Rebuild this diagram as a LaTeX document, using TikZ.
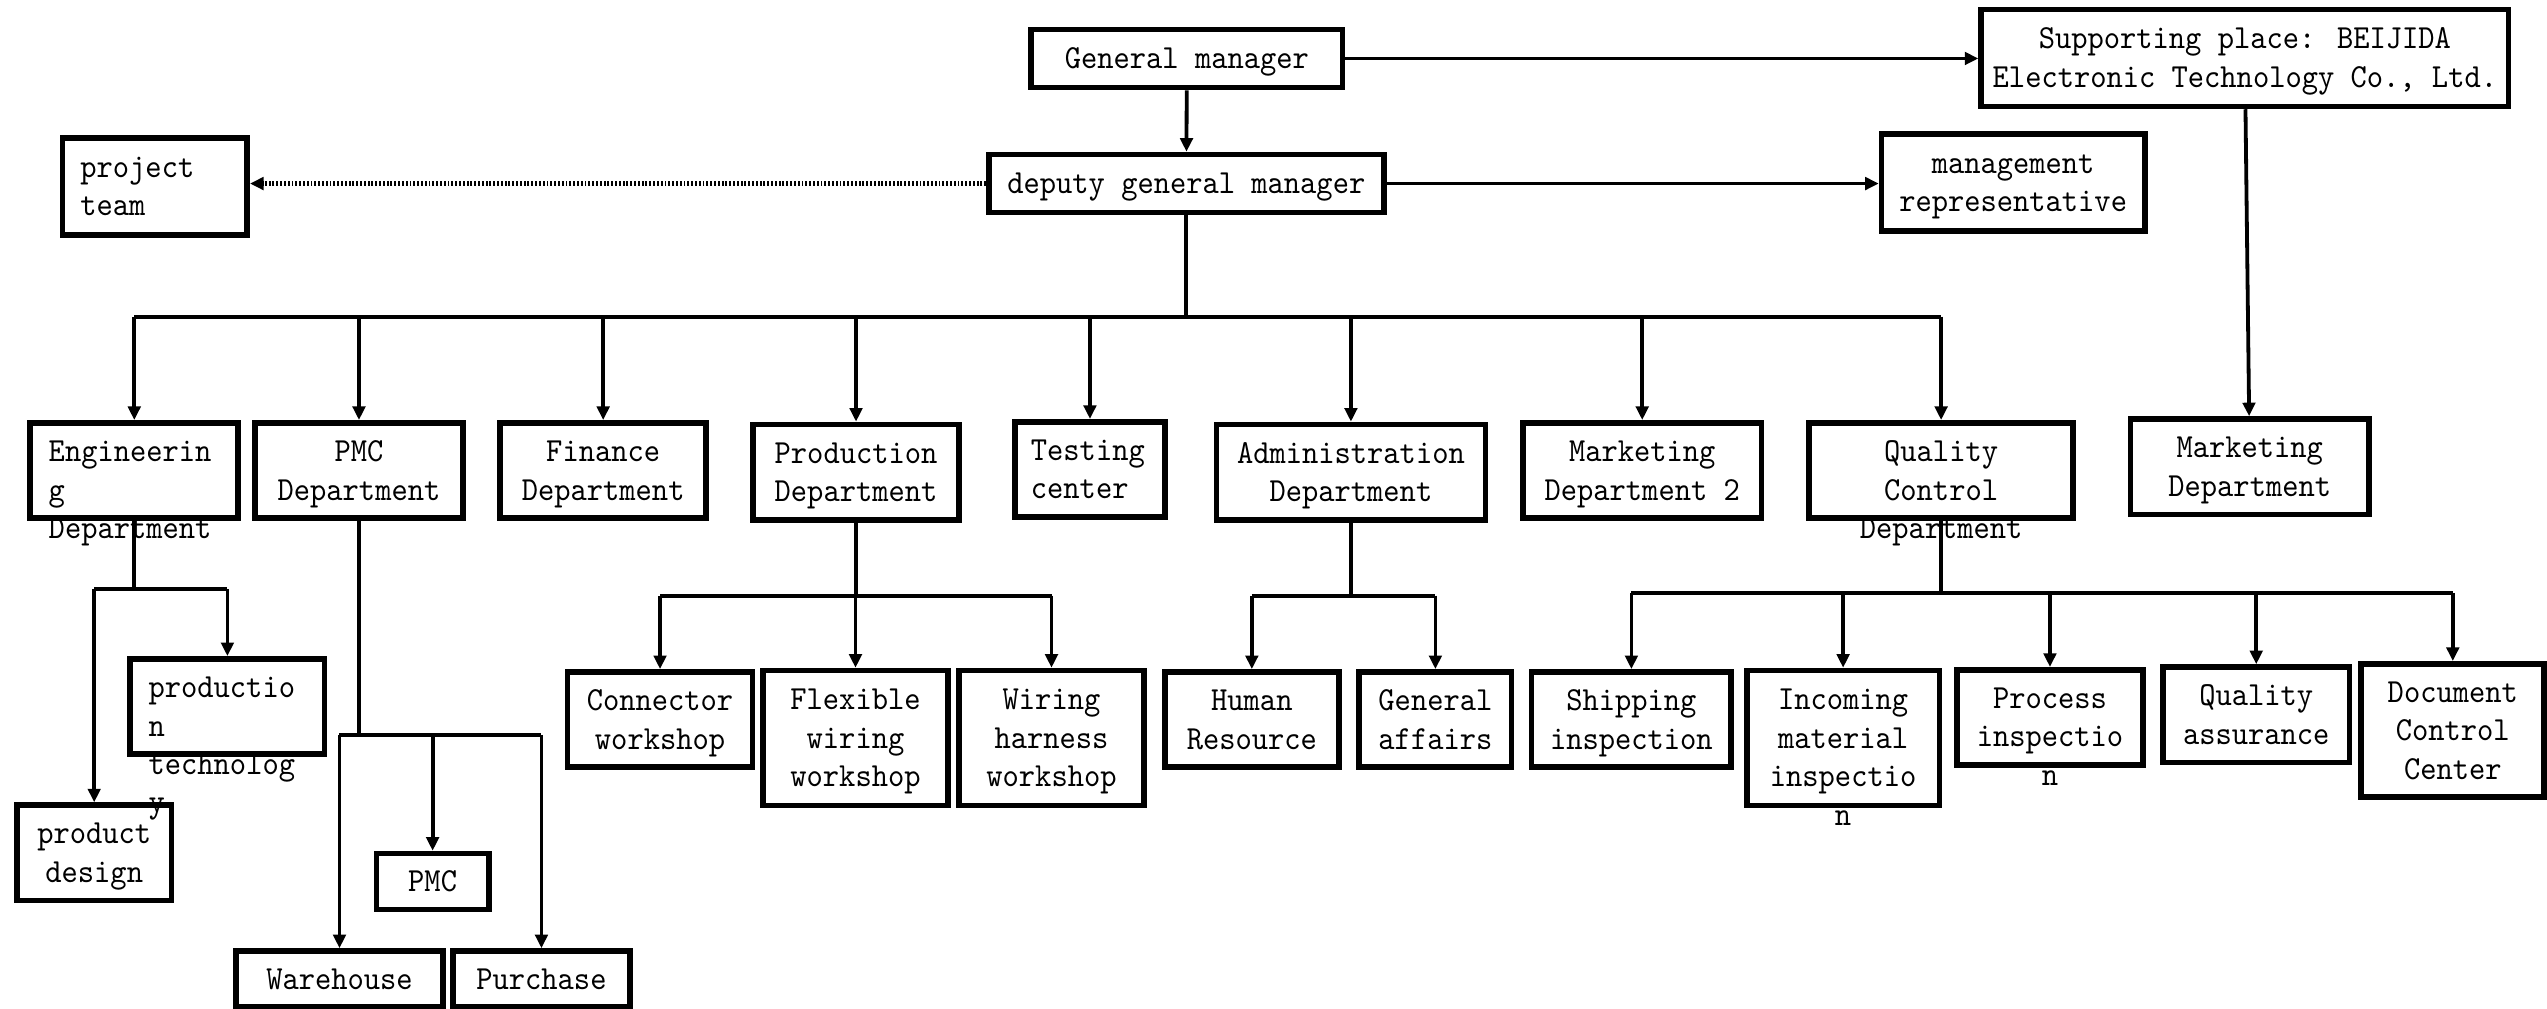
\documentclass[tikz,border=0pt]{standalone}
\usepackage{fontspec}
\setmainfont{lmmono10-regular.otf}[FakeStretch=0.92]
\usetikzlibrary{arrows.meta}
\newcommand{\ltab}[2]{\begin{tabular}[t]{@{}p{#1}@{}}#2\end{tabular}}
\newcommand{\ctab}[1]{\begin{tabular}[t]{@{}c@{}}#1\end{tabular}}
\tikzset{box/.style={draw,line width=3pt,inner sep=0.15cm,minimum height=1.76cm,
    font=\fontsize{17.7pt}{20.2pt}\selectfont,text height=15.5pt,text depth=24.9pt},
  one/.style={text depth=4.7pt},
  three/.style={text depth=45.1pt},
  low/.style={box,one,minimum height=1.03cm},
  tall/.style={box,three,minimum height=2.49cm},
  line/.style={line width=2pt},
  arr/.style={line,-{Triangle[length=2.5mm,width=2.3mm]}},
  dots/.style={arr,line width=2.6pt,dash pattern=on 1pt off 1pt}}
\begin{document}
\begin{tikzpicture}
\useasboundingbox (0,0) rectangle (47.04,-18.63);
% top of the chart
\node[box,one,minimum height=1.07cm,minimum width=5.75cm] (gm) at (21.92,-1.08) {\ctab{General manager}};
\node[box,one,minimum height=1.07cm,minimum width=7.29cm] (dgm) at (21.91,-3.39) {\ctab{deputy general manager}};
\node[box,minimum height=1.79cm,minimum width=9.74cm] (sup) at (41.46,-1.07) {\ctab{Supporting place: BEIJIDA\\Electronic Technology Co., Ltd.}};
\node[box,minimum height=1.79cm,minimum width=3.41cm,inner xsep=0.33cm] (team) at (2.86,-3.44) {\ltab{2.75cm}{project\\team}};
\node[box,minimum height=1.79cm,minimum width=4.86cm] (rep) at (37.18,-3.37) {\ctab{management\\representative}};
% departments
\node[box,minimum width=3.84cm,inner xsep=0.34cm] (eng) at (2.48,-8.69) {\ltab{3.16cm}{Engineerin\\g\\Department}};
\node[box,minimum width=3.83cm] (pmcd) at (6.63,-8.69) {\ctab{PMC\\Department}};
\node[box,minimum width=3.81cm] (fin) at (11.14,-8.69) {\ctab{Finance\\Department}};
\node[box,minimum width=3.80cm] (prod) at (15.81,-8.72) {\ctab{Production\\Department}};
\node[box,minimum width=2.78cm,inner xsep=0.30cm] (test) at (20.13,-8.67) {\ltab{2.18cm}{Testing\\center}};
\node[box,minimum width=4.97cm] (adm) at (24.95,-8.72) {\ctab{Administration\\Department}};
\node[box,minimum width=4.40cm] (mkt2) at (30.33,-8.69) {\ctab{Marketing\\Department 2}};
\node[box,minimum width=4.88cm] (qc) at (35.85,-8.69) {\ctab{Quality\\Control\\Department}};
\node[box,minimum width=4.40cm] (mkt) at (41.55,-8.62) {\ctab{Marketing\\Department}};
% sections
\node[box,minimum width=3.59cm,inner xsep=0.34cm] (ptech) at (4.20,-13.05) {\ltab{2.91cm}{productio\\n\\technolog\\y}};
\node[box,minimum width=2.85cm] (pdes) at (1.74,-15.75) {\ctab{product\\design}};
\node[low,minimum width=2.07cm] (pmc) at (7.99,-16.28) {\ctab{PMC}};
\node[low,minimum width=3.82cm] (wh) at (6.27,-18.08) {\ctab{Warehouse}};
\node[low,minimum width=3.27cm] (pur) at (10.00,-18.08) {\ctab{Purchase}};
\node[box,minimum width=3.42cm] (conn) at (12.19,-13.29) {\ctab{Connector\\workshop}};
\node[tall,minimum width=3.42cm] (flex) at (15.80,-13.63) {\ctab{Flexible\\wiring\\workshop}};
\node[tall,minimum width=3.42cm] (wire) at (19.42,-13.63) {\ctab{Wiring\\harness\\workshop}};
\node[box,minimum width=3.21cm] (hr) at (23.12,-13.29) {\ctab{Human\\Resource}};
\node[box,minimum width=2.81cm] (ga) at (26.51,-13.29) {\ctab{General\\affairs}};
\node[box,minimum width=3.69cm] (ship) at (30.13,-13.29) {\ctab{Shipping\\inspection}};
\node[tall,minimum width=3.56cm] (inc) at (34.04,-13.63) {\ctab{Incoming\\material\\inspectio\\n}};
\node[box,minimum width=3.44cm] (proc) at (37.86,-13.25) {\ctab{Process\\inspectio\\n}};
\node[box,minimum width=3.44cm] (qa) at (41.67,-13.20) {\ctab{Quality\\assurance}};
\node[tall,minimum width=3.38cm,minimum height=2.46cm] (doc) at (45.30,-13.49) {\ctab{Document\\Control\\Center}};
% branch levels
\coordinate (bus) at (0,-5.85);
\coordinate (ebr) at (0,-10.88);
\coordinate (pbr) at (0,-13.57);
\coordinate (dbr) at (0,-11.00);
\coordinate (abr) at (0,-11.00);
\coordinate (qbr) at (0,-10.95);
% connectors
\draw[arr] (gm) -- (dgm);
\draw[arr] (gm.east) -- (gm.east -| sup.west);
\draw[arr] (dgm.east) -- (dgm.east -| rep.west);
\draw[dots] (dgm.west) -- (dgm.west -| team.east);
\draw[arr] (sup) -- (mkt);
\draw[line] (dgm.south) -- (dgm.south |- bus);
\draw[line] (bus -| eng) -- (bus -| qc);
\foreach \n in {eng,pmcd,fin,prod,test,adm,mkt2,qc}
  \draw[arr] (bus -| \n) -- (\n.north);
\draw[line] (eng.south) -- (eng.south |- ebr);
\draw[line] (ebr -| pdes) -- (ebr -| ptech);
\foreach \n in {pdes,ptech}
  \draw[arr] (ebr -| \n) -- (\n.north);
\draw[line] (pmcd.south) -- (pmcd.south |- pbr);
\draw[line] (pbr -| wh) -- (pbr -| pur);
\foreach \n in {wh,pmc,pur}
  \draw[arr] (pbr -| \n) -- (\n.north);
\draw[line] (prod.south) -- (prod.south |- dbr);
\draw[line] (dbr -| conn) -- (dbr -| wire);
\foreach \n in {conn,flex,wire}
  \draw[arr] (dbr -| \n) -- (\n.north);
\draw[line] (adm.south) -- (adm.south |- abr);
\draw[line] (abr -| hr) -- (abr -| ga);
\foreach \n in {hr,ga}
  \draw[arr] (abr -| \n) -- (\n.north);
\draw[line] (qc.south) -- (qc.south |- qbr);
\draw[line] (qbr -| ship) -- (qbr -| doc);
\foreach \n in {ship,inc,proc,qa,doc}
  \draw[arr] (qbr -| \n) -- (\n.north);
\end{tikzpicture}
\end{document}
